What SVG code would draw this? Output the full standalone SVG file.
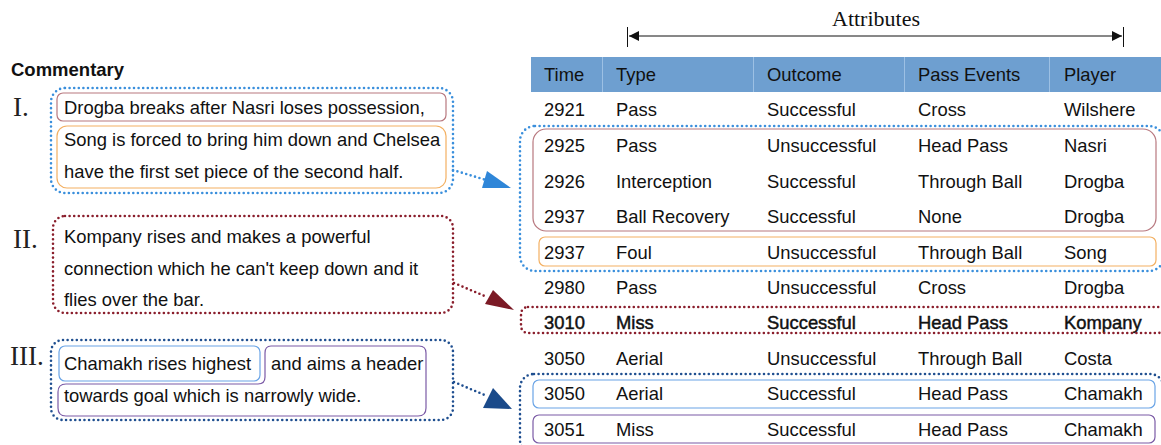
<svg xmlns="http://www.w3.org/2000/svg" width="1161" height="445" viewBox="0 0 1161 445">
<style>
text{font-family:"Liberation Sans",Arial,sans-serif;font-size:18.4px;fill:#111}
.rom{font-family:"Liberation Serif","DejaVu Serif",serif;font-size:27px;fill:#222}
.bold{stroke:#111;stroke-width:0.45}
.dot{fill:none;stroke-width:2.6;stroke-linecap:round;stroke-dasharray:0 4.6}
.lb{stroke:#3a8fdc}
.dr{stroke:#8a1e2c}
.db{stroke:#1f4f90}
.sol{fill:none;stroke-width:1.2}
</style>
<defs>
<marker id="ah" viewBox="0 0 10 10" refX="10" refY="5" markerWidth="10" markerHeight="10" markerUnits="userSpaceOnUse" orient="auto-start-reverse">
<path d="M0,0 L10,5 L0,10 Z" fill="#111"/>
</marker>
</defs>

<g id="attributes">
<text x="876" y="26" text-anchor="middle" style="font-family:'Liberation Serif','DejaVu Serif',serif;font-size:22px">Attributes</text>
<line x1="627.5" y1="27" x2="627.5" y2="47" stroke="#111" stroke-width="1"/>
<line x1="1123.5" y1="27" x2="1123.5" y2="47" stroke="#111" stroke-width="1"/>
<line x1="629" y1="36" x2="1122" y2="36" stroke="#111" stroke-width="1" marker-start="url(#ah)" marker-end="url(#ah)"/>
</g>

<g id="table">
<rect x="531" y="57" width="630" height="35" fill="#6e9fd0"/>
<g stroke="#9cc0e4" stroke-width="1">
<line x1="602.5" y1="57" x2="602.5" y2="92"/>
<line x1="753.5" y1="57" x2="753.5" y2="92"/>
<line x1="904.5" y1="57" x2="904.5" y2="92"/>
<line x1="1049.5" y1="57" x2="1049.5" y2="92"/>
</g>
<g>
<text x="544" y="81">Time</text><text x="616" y="81">Type</text><text x="767" y="81">Outcome</text><text x="918" y="81">Pass Events</text><text x="1064" y="81">Player</text>
</g>
<g>
<text x="544" y="116">2921</text><text x="616" y="116">Pass</text><text x="767" y="116">Successful</text><text x="918" y="116">Cross</text><text x="1064" y="116">Wilshere</text>
<text x="544" y="152">2925</text><text x="616" y="152">Pass</text><text x="767" y="152">Unsuccessful</text><text x="918" y="152">Head Pass</text><text x="1064" y="152">Nasri</text>
<text x="544" y="188">2926</text><text x="616" y="188">Interception</text><text x="767" y="188">Successful</text><text x="918" y="188">Through Ball</text><text x="1064" y="188">Drogba</text>
<text x="544" y="223">2937</text><text x="616" y="223">Ball Recovery</text><text x="767" y="223">Successful</text><text x="918" y="223">None</text><text x="1064" y="223">Drogba</text>
<text x="544" y="259">2937</text><text x="616" y="259">Foul</text><text x="767" y="259">Unsuccessful</text><text x="918" y="259">Through Ball</text><text x="1064" y="259">Song</text>
<text x="544" y="294">2980</text><text x="616" y="294">Pass</text><text x="767" y="294">Unsuccessful</text><text x="918" y="294">Cross</text><text x="1064" y="294">Drogba</text>
<g class="bold"><text x="544" y="329">3010</text><text x="616" y="329">Miss</text><text x="767" y="329">Successful</text><text x="918" y="329">Head Pass</text><text x="1064" y="329">Kompany</text></g>
<text x="544" y="365">3050</text><text x="616" y="365">Aerial</text><text x="767" y="365">Unsuccessful</text><text x="918" y="365">Through Ball</text><text x="1064" y="365">Costa</text>
<text x="544" y="400">3050</text><text x="616" y="400">Aerial</text><text x="767" y="400">Successful</text><text x="918" y="400">Head Pass</text><text x="1064" y="400">Chamakh</text>
<text x="544" y="436">3051</text><text x="616" y="436">Miss</text><text x="767" y="436">Successful</text><text x="918" y="436">Head Pass</text><text x="1064" y="436">Chamakh</text>
</g>
</g>

<g id="events-I">
<rect x="520" y="126" width="644" height="145" rx="15" class="dot lb"/>
<rect x="533" y="129" width="623" height="102" rx="13" class="sol" stroke="#b8787f"/>
<rect x="539" y="237" width="617" height="29" rx="6" class="sol" stroke="#f3b062"/>
</g>
<g id="events-II">
<rect x="521" y="307" width="644" height="26" rx="7" class="dot dr"/>
</g>
<g id="events-III">
<rect x="520" y="374" width="644" height="80" rx="14" class="dot db"/>
<rect x="533" y="380" width="622" height="28" rx="6" class="sol" stroke="#6aa4e6"/>
<rect x="533" y="415" width="622" height="28" rx="6" class="sol" stroke="#7b5aa6"/>
</g>

<g id="commentary-title">
<text x="11" y="76" style="font-weight:bold;font-size:18.5px">Commentary</text>
</g>

<g id="commentary-I">
<text x="13" y="116" class="rom">I.</text>
<rect x="51" y="88" width="402" height="105" rx="14" class="dot lb"/>
<rect x="57" y="93" width="389" height="28" rx="6" class="sol" stroke="#b8787f"/>
<rect x="57" y="126" width="389" height="62" rx="10" class="sol" stroke="#f3b062"/>
<text x="64" y="114">Drogba breaks after Nasri loses possession,</text>
<text x="64" y="146">Song is forced to bring him down and Chelsea</text>
<text x="64" y="178">have the first set piece of the second half.</text>
</g>

<g id="commentary-II">
<text x="13" y="248" class="rom">II.</text>
<rect x="53" y="216" width="400" height="97" rx="12" class="dot dr"/>
<text x="64" y="243">Kompany rises and makes a powerful</text>
<text x="64" y="275">connection which he can't keep down and it</text>
<text x="64" y="306">flies over the bar.</text>
</g>

<g id="commentary-III">
<text x="10" y="365" class="rom">III.</text>
<rect x="51" y="340" width="402" height="80" rx="12" class="dot db"/>
<rect x="59" y="346" width="201" height="35" rx="6" class="sol" stroke="#6aa4e6"/>
<path d="M271,346 H419 Q426,346 426,353 V408 Q426,416 418,416 H66 Q58,416 58,408 V392 Q58,384 66,384 H258 Q265,384 265,377 V353 Q265,346 271,346 Z" class="sol" stroke="#7b5aa6"/>
<text x="64" y="370">Chamakh rises highest</text>
<text x="271" y="370">and aims a header</text>
<text x="64" y="402">towards goal which is narrowly wide.</text>
</g>

<g id="connectors">
<path d="M453,170 L486,180" class="dot lb"/>
<polygon points="487,171 482,188 511,188" fill="#2f86d8"/>
<path d="M454,283 L487,297" class="dot dr"/>
<polygon points="493,290 485,304 514,310" fill="#7b1a25"/>
<path d="M454,382 L487,396" class="dot db"/>
<polygon points="493,388 483,408 512,409" fill="#1a4a8a"/>
</g>
</svg>
